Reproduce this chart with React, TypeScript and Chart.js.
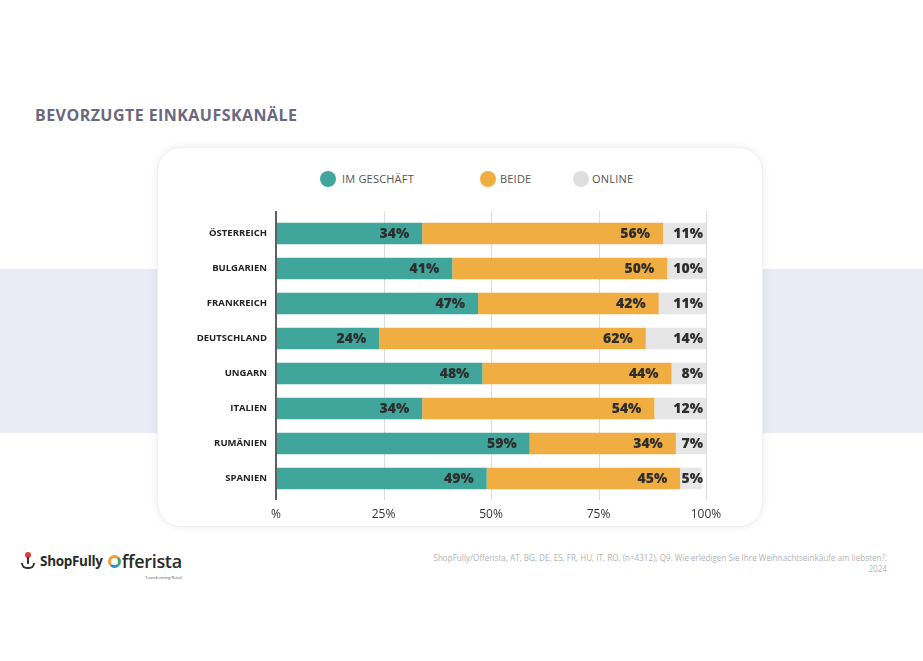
import React, { useEffect, useRef } from "react";
import { Chart, registerables } from "chart.js";

Chart.register(...registerables);

const countries = ["ÖSTERREICH", "BULGARIEN", "FRANKREICH", "DEUTSCHLAND", "UNGARN", "ITALIEN", "RUMÄNIEN", "SPANIEN"];
const imGeschaeft = [34, 41, 47, 24, 48, 34, 59, 49];
const beide = [56, 50, 42, 62, 44, 54, 34, 45];
const online = [11, 10, 11, 14, 8, 12, 7, 5];
const seriesNames = ["IM GESCHÄFT", "BEIDE", "ONLINE"];
const seriesColors = ["#40a69b", "#f0ad42", "#e6e6e6"];
const xTickLabels: Record<number, string> = { 0: "%", 25: "25%", 50: "50%", 75: "75%", 100: "100%" };

const FONT = "'Open Sans', 'DejaVu Sans', sans-serif";

const linesPlugin = {
  id: "customLines",
  beforeDatasetsDraw(chart: any) {
    const { ctx, chartArea, scales } = chart;
    const x = scales.x;
    ctx.save();
    [25, 50, 75, 100].forEach((v) => {
      const px = Math.round(x.getPixelForValue(v)) + 0.5;
      ctx.strokeStyle = "#dcdcdc";
      ctx.lineWidth = 1;
      ctx.beginPath();
      ctx.moveTo(px, chartArea.top - 5);
      ctx.lineTo(px, chartArea.bottom + 4);
      ctx.stroke();
    });
    ctx.restore();
  },
  afterDatasetsDraw(chart: any) {
    const { ctx, chartArea, scales } = chart;
    const x = scales.x;
    ctx.save();
    const px = x.getPixelForValue(0);
    ctx.strokeStyle = "#606060";
    ctx.lineWidth = 2;
    ctx.beginPath();
    ctx.moveTo(px, chartArea.top - 5);
    ctx.lineTo(px, chartArea.bottom + 4);
    ctx.stroke();

    ctx.font = `800 14px ${FONT}`;
    ctx.fillStyle = "#2e2e2e";
    ctx.textAlign = "right";
    ctx.textBaseline = "middle";
    chart.data.datasets.forEach((ds: any, di: number) => {
      const meta = chart.getDatasetMeta(di);
      meta.data.forEach((el: any, i: number) => {
        const val = ds.data[i];
        let tx: number;
        if (di === 2) tx = chartArea.right - 3;
        else tx = Math.min(el.x, chartArea.right) - 13;
        ctx.fillText(`${val}%`, tx, el.y + 1);
      });
    });
    ctx.restore();
  },
};

function BarChart() {
  const ref = useRef<HTMLCanvasElement>(null);
  useEffect(() => {
    if (!ref.current) return;
    const data = [imGeschaeft, beide, online];
    const chart = new Chart(ref.current, {
      type: "bar",
      data: {
        labels: countries,
        datasets: seriesNames.map((name, i) => ({
          label: name,
          data: data[i],
          backgroundColor: seriesColors[i],
          borderWidth: 0,
          categoryPercentage: 1,
          barPercentage: 0.615,
        })),
      },
      options: {
        indexAxis: "y",
        animation: false,
        responsive: false,
        maintainAspectRatio: false,
        layout: { padding: { top: 16, right: 44, left: 0, bottom: 0 } },
        plugins: { legend: { display: false }, tooltip: { enabled: false } },
        scales: {
          x: {
            stacked: true,
            min: 0,
            max: 100,
            grid: { display: false, drawTicks: false },
            border: { display: false },
            ticks: {
              stepSize: 25,
              padding: 11,
              color: "#333",
              font: { family: FONT, size: 12 },
              maxRotation: 0,
              callback: (v: any) => xTickLabels[v as number] ?? "",
            },
            afterFit: (s: any) => {
              s.height = 34;
            },
          },
          y: {
            stacked: true,
            grid: { display: false, drawTicks: false },
            border: { display: false },
            ticks: {
              padding: 9,
              color: "#222",
              font: { family: FONT, size: 9.5, weight: "bold" },
            },
            afterFit: (s: any) => {
              s.width = 116;
            },
          },
        },
      },
      plugins: [linesPlugin],
    });
    return () => chart.destroy();
  }, []);
  return <canvas ref={ref} width={590} height={330} style={{ position: "absolute", left: 160, top: 200, width: 590, height: 330 }} />;
}

export default function App() {
  const legendPos = [
    { cx: 328, tx: 342 },
    { cx: 488, tx: 500 },
    { cx: 581, tx: 592 },
  ];
  return (
    <div style={{ position: "fixed", left: 0, top: 0, width: 923, height: 661, background: "#fff", overflow: "hidden", fontFamily: FONT }}>
      <div style={{ position: "absolute", left: 0, top: 269, width: 923, height: 164, background: "#e9ebf5" }} />
      <div
        style={{
          position: "absolute",
          left: 35,
          top: 104,
          fontSize: 16,
          fontWeight: 700,
          color: "#6a6781",
          letterSpacing: 0.45,
          whiteSpace: "nowrap",
        }}
      >
        BEVORZUGTE EINKAUFSKANÄLE
      </div>
      <div
        style={{
          position: "absolute",
          left: 157,
          top: 147,
          width: 606,
          height: 380,
          background: "#fff",
          borderRadius: 24,
          boxShadow: "0 0 10px rgba(0,0,0,0.07)",
          border: "1px solid #f0f0f0",
          boxSizing: "border-box",
        }}
      />
      {seriesNames.map((n, i) => (
        <React.Fragment key={n}>
          <div
            style={{
              position: "absolute",
              left: legendPos[i].cx - 8,
              top: 171,
              width: 16,
              height: 16,
              borderRadius: 8,
              background: seriesColors[i] === "#e6e6e6" ? "#dedede" : seriesColors[i],
            }}
          />
          <div style={{ position: "absolute", left: legendPos[i].tx, top: 171, fontSize: 11, letterSpacing: 0.2, lineHeight: "16px", color: "#555", whiteSpace: "nowrap" }}>{n}</div>
        </React.Fragment>
      ))}
      <BarChart />
      <div style={{ position: "absolute", left: 20, top: 552, display: "flex", alignItems: "center", whiteSpace: "nowrap" }}>
        <span style={{ display: "inline-block", width: 16, height: 18, position: "relative", marginRight: 4 }}>
          <span style={{ position: "absolute", left: 5, top: 0, width: 6, height: 6, borderRadius: 3, background: "#e23b3b" }} />
          <span style={{ position: "absolute", left: 7, top: 5, width: 2, height: 7, background: "#333" }} />
          <span style={{ position: "absolute", left: 1, top: 11, width: 14, height: 6, borderRadius: "0 0 7px 7px", border: "2px solid #333", borderTop: "none", boxSizing: "border-box" }} />
        </span>
        <span style={{ fontSize: 13.5, fontWeight: 700, color: "#2a2a2a", letterSpacing: -0.3 }}>ShopFully</span>
        <span style={{ display: "inline-block", width: 13, height: 13, borderRadius: 7, border: "3px solid #f29b30", borderRightColor: "#3aa66a", borderBottomColor: "#2a8fc7", boxSizing: "border-box", marginLeft: 5, marginRight: 1 }} />
        <span style={{ position: "relative", fontSize: 18, fontWeight: 600, color: "#2a2a2a", letterSpacing: -0.3, lineHeight: "18px" }}>
          fferista
          <span style={{ position: "absolute", right: 0, top: 17, fontSize: 4, color: "#555", fontWeight: 400, letterSpacing: 0 }}>Transforming Retail</span>
        </span>
      </div>
      <div style={{ position: "absolute", right: 36, top: 552, width: 500, textAlign: "right", fontSize: 8.1, lineHeight: "11px", color: "#b3b3b3" }}>
        ShopFully/Offerista, AT, BG, DE, ES, FR, HU, IT, RO, (n=4312), Q9. Wie erledigen Sie Ihre Weihnachtseinkäufe am liebsten?,
        <br />
        2024
      </div>
    </div>
  );
}
